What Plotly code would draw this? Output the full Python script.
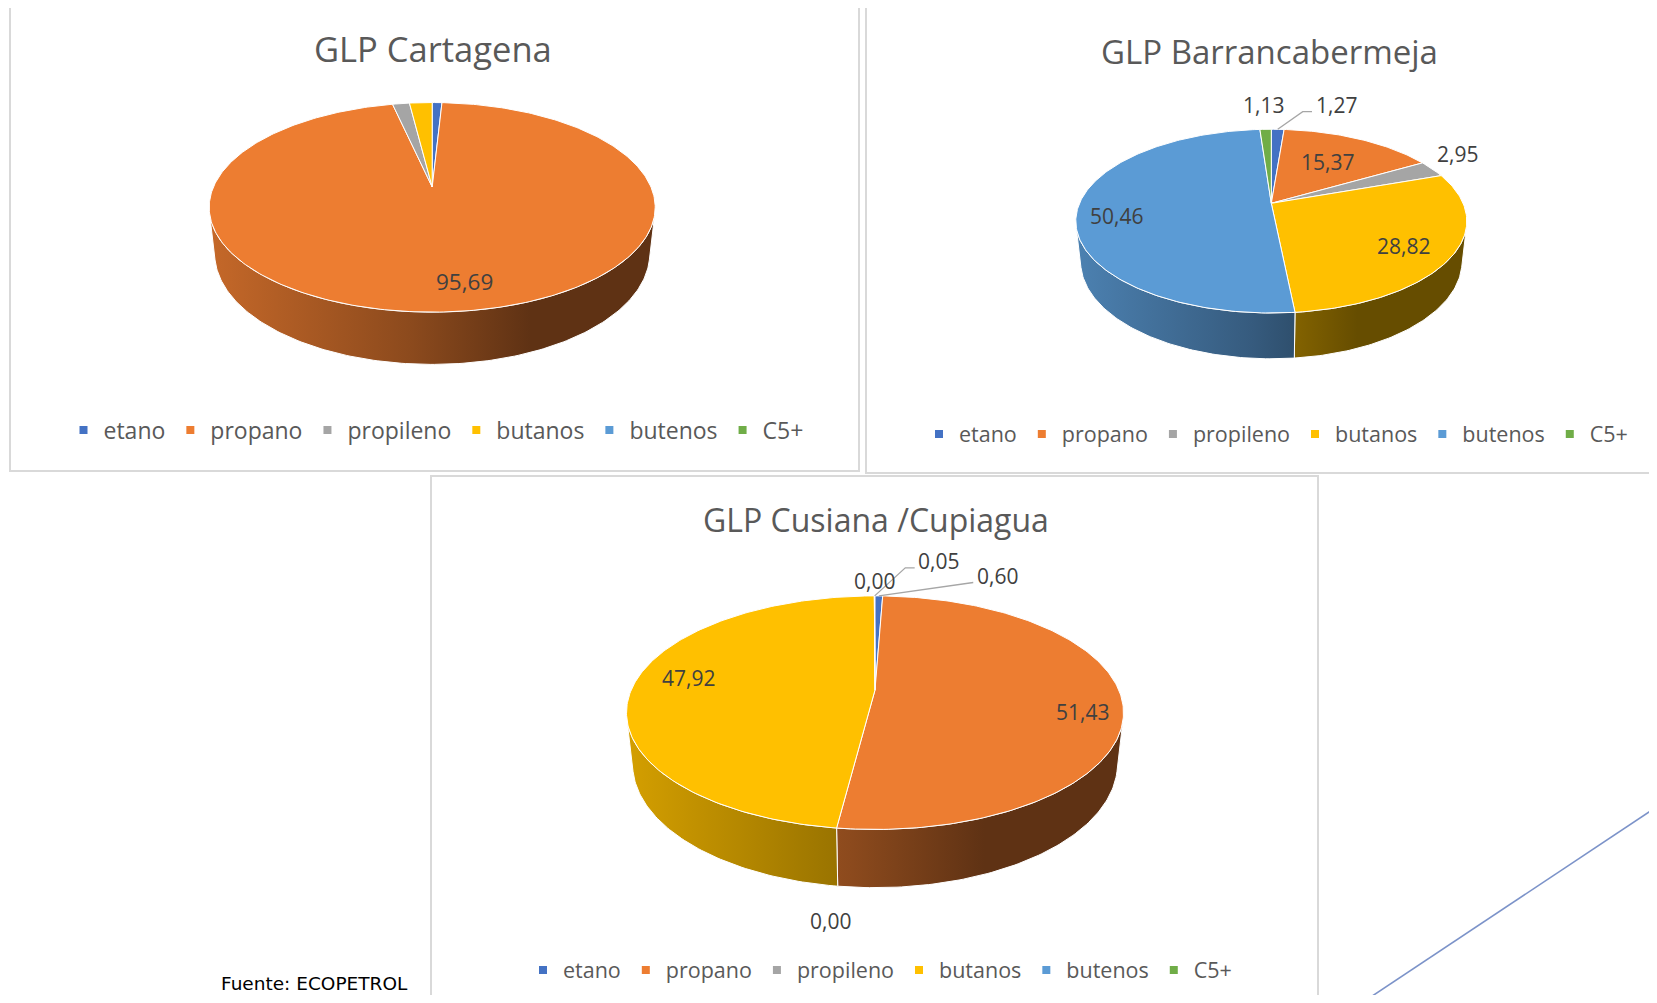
import numpy as np
import plotly.graph_objects as go

# ---------------- data ----------------
categories = ["etano", "propano", "propileno", "butanos", "butenos", "C5+"]
cartagena = [0.85, 95.69, 1.48, 1.98, 0.00, 0.00]
barrancabermeja = [1.27, 15.37, 2.95, 28.82, 50.46, 1.13]
cusiana_cupiagua = [0.60, 51.43, 0.00, 47.92, 0.00, 0.05]
chart_titles = ["GLP Cartagena", "GLP Barrancabermeja", "GLP Cusiana /Cupiagua"]
source_note = "Fuente: ECOPETROL"

series = [cartagena, barrancabermeja, cusiana_cupiagua]

# ---------------- style / layout ----------------
COLORS = ["#4472C4", "#ED7D31", "#A5A5A5", "#FFC000", "#5B9BD5", "#70AD47"]
FONT = "Open Sans"
OFF = 8                      # default body margin of the page
FW, FH = 1657 - 2 * OFF, 1003 - 2 * OFF

# 3-D pie camera (perspective)
ELEV = np.radians(27.45)
S, C = np.sin(ELEV), np.cos(ELEV)
DIST = 4.573
HEIGHT = 0.239
WUNIT = 2.0 / np.sqrt(DIST ** 2 - C ** 2)
VIS = np.arccos(-1.0 / (DIST * C))   # wall visible for VIS < phi < 2pi-VIS

panels = [
    dict(box=(10, 4, 859, 471), cx=432.2, ay=187.0, w=446, title=(433, 48), tsize=34.5,
         lsize=22.5, legend=(436, 430), lgsize=23, lg="legend",
         labels={1: dict(r=0.80, da=-4.4)}),
    dict(box=(866, 7, 1720, 473), cx=1271.3, ay=203.3, w=391, title=(1269, 51.5), tsize=33,
         lsize=21, legend=(1276, 434), lgsize=21.5, lg="legend2",
         labels={0: dict(lead=(25, -17.6, 34.3)), 1: dict(r=0.60, da=0),
                 2: dict(r=1.26, da=-5.2), 3: dict(r=0.77, da=3),
                 4: dict(r=0.80, da=-5), 5: dict(r=1.42, da=0)}),
    dict(box=(431, 476, 1318, 1020), cx=875.0, ay=690.0, w=497, title=(875.5, 519), tsize=32,
         lsize=21, legend=(880, 970), lgsize=21.5, lg="legend3",
         labels={0: dict(lead=(89.4, -13.4, 94.4)), 1: dict(r=0.84, da=8),
                 2: dict(r=1.475, da=-2.2), 3: dict(r=0.79, da=4.4),
                 4: dict(r=1.19, da=0), 5: dict(lead=(30.6, -28, 40))}),
]


def shade(hexcol, f):
    h = hexcol.lstrip("#")
    r, g, b = (int(h[i:i + 2], 16) for i in (0, 2, 4))
    return "rgb(%d,%d,%d)" % (round(r * f), round(g * f), round(b * f))


def project(p, r, phi, z):
    phi = np.asarray(phi, dtype=float)
    x = r * np.sin(phi)
    y = r * np.cos(phi)
    den = DIST + y * C - z * S
    sx = x / den
    sy = (y * S + z * C) / den
    k = p["w"] / WUNIT
    return p["cx"] + k * sx, p["ay"] - k * sy


def arc(a0, a1):
    n = max(2, int(np.ceil((a1 - a0) / (2 * np.pi) * 400)) + 1)
    return np.linspace(a0, a1, n)


def fmt(v):
    return ("%.2f" % v).replace(".", ",")


fig = go.Figure()
annotations = []
shapes = []

for p, vals, title in zip(panels, series, chart_titles):
    x0, y0, x1, y1 = p["box"]
    shapes.append(dict(type="rect", xref="x", yref="y", x0=x0, y0=y0, x1=x1, y1=y1,
                       line=dict(color="#D9D9D9", width=2), fillcolor="white", layer="below"))
    total = float(sum(vals))
    fr = np.concatenate([[0.0], np.cumsum(vals)]) / total
    left, right = p["cx"] - p["w"] / 2, p["cx"] + p["w"] / 2

    # side walls (drawn first)
    for i, v in enumerate(vals):
        if v <= 0:
            continue
        a0, a1 = 2 * np.pi * fr[i], 2 * np.pi * fr[i + 1]
        lo, hi = max(a0, VIS), min(a1, 2 * np.pi - VIS)
        if hi <= lo:
            continue
        ph = arc(lo, hi)
        tx, ty = project(p, 1.0, ph, 0.0)
        bx, by = project(p, 1.0, ph[::-1], -HEIGHT)
        xs = np.concatenate([tx, bx, tx[:1]])
        ys = np.concatenate([ty, by, ty[:1]])
        base = COLORS[i]
        fig.add_trace(go.Scatter(
            x=xs, y=ys, mode="lines", fill="toself",
            line=dict(color="white", width=1),
            fillgradient=dict(type="horizontal", start=left, stop=right,
                              colorscale=[[0, shade(base, 0.83)], [0.45, shade(base, 0.59)],
                                          [0.72, shade(base, 0.40)], [1, shade(base, 0.40)]]),
            hoverinfo="skip", showlegend=False))

    # top faces
    for i, v in enumerate(vals):
        if v <= 0:
            continue
        a0, a1 = 2 * np.pi * fr[i], 2 * np.pi * fr[i + 1]
        ph = arc(a0, a1)
        rx, ry = project(p, 1.0, ph, 0.0)
        cxp, cyp = project(p, 0.0, 0.0, 0.0)
        xs = np.concatenate([[cxp], rx, [cxp]])
        ys = np.concatenate([[cyp], ry, [cyp]])
        fig.add_trace(go.Scatter(
            x=xs, y=ys, mode="lines", fill="toself", fillcolor=COLORS[i],
            line=dict(color="white", width=1), hoverinfo="skip", showlegend=False))

    # data labels
    for i, spec in p["labels"].items():
        mid = np.pi * (fr[i] + fr[i + 1])
        txt = fmt(vals[i])
        if "lead" in spec:
            ex, ey, lx = spec["lead"]
            axp, ayp = project(p, 1.0, mid, 0.0)
            fig.add_trace(go.Scatter(
                x=[axp, axp + ex, axp + lx], y=[ayp, ayp + ey, ayp + ey], mode="lines",
                line=dict(color="#A6A6A6", width=1.3), hoverinfo="skip", showlegend=False))
            annotations.append(dict(x=axp + lx + 1.5, y=ayp + ey - 7, xref="x", yref="y",
                                    text=txt, showarrow=False, xanchor="left", yanchor="middle",
                                    font=dict(family=FONT, size=p["lsize"], color="#404040")))
        else:
            lx_, ly_ = project(p, spec["r"], mid + np.radians(spec["da"]), 0.0)
            annotations.append(dict(x=float(lx_), y=float(ly_), xref="x", yref="y",
                                    text=txt, showarrow=False, xanchor="center", yanchor="middle",
                                    font=dict(family=FONT, size=p["lsize"], color="#404040")))

    # title
    annotations.append(dict(x=p["title"][0], y=p["title"][1], xref="x", yref="y", text=title,
                            showarrow=False, xanchor="center", yanchor="middle",
                            font=dict(family=FONT, size=p["tsize"], color="#595959")))

    # legend entries
    for i, cat in enumerate(categories):
        fig.add_trace(go.Scatter(
            x=[None], y=[None], mode="markers", name=cat, legend=p["lg"],
            marker=dict(symbol="square", size=8, color=COLORS[i]),
            hoverinfo="skip", showlegend=True))

annotations.append(dict(x=314, y=983.5, xref="x", yref="y", text=source_note, showarrow=False,
                        xanchor="center", yanchor="middle",
                        font=dict(family="DejaVu Sans", size=18.5, color="#000000")))

# decorative connector line at bottom right
shapes.append(dict(type="line", xref="x", yref="y", x0=1361.7, y0=1003, x1=1657, y1=806.7,
                   line=dict(color="#7C93C9", width=1.6)))


def legend_cfg(p):
    return dict(orientation="h", x=(p["legend"][0] - OFF) / FW, y=1 - (p["legend"][1] - OFF) / FH,
                xanchor="center", yanchor="middle", bgcolor="rgba(0,0,0,0)",
                font=dict(family=FONT, size=p["lgsize"], color="#595959"), itemclick=False,
                itemdoubleclick=False, traceorder="normal")


fig.update_layout(
    width=FW, height=FH, margin=dict(l=0, r=0, t=0, b=0),
    paper_bgcolor="white", plot_bgcolor="white",
    xaxis=dict(range=[OFF, OFF + FW], visible=False, fixedrange=True),
    yaxis=dict(range=[OFF + FH, OFF], visible=False, fixedrange=True),
    shapes=shapes, annotations=annotations,
    legend=legend_cfg(panels[0]), legend2=legend_cfg(panels[1]), legend3=legend_cfg(panels[2]),
)

fig.write_html("out.html")
